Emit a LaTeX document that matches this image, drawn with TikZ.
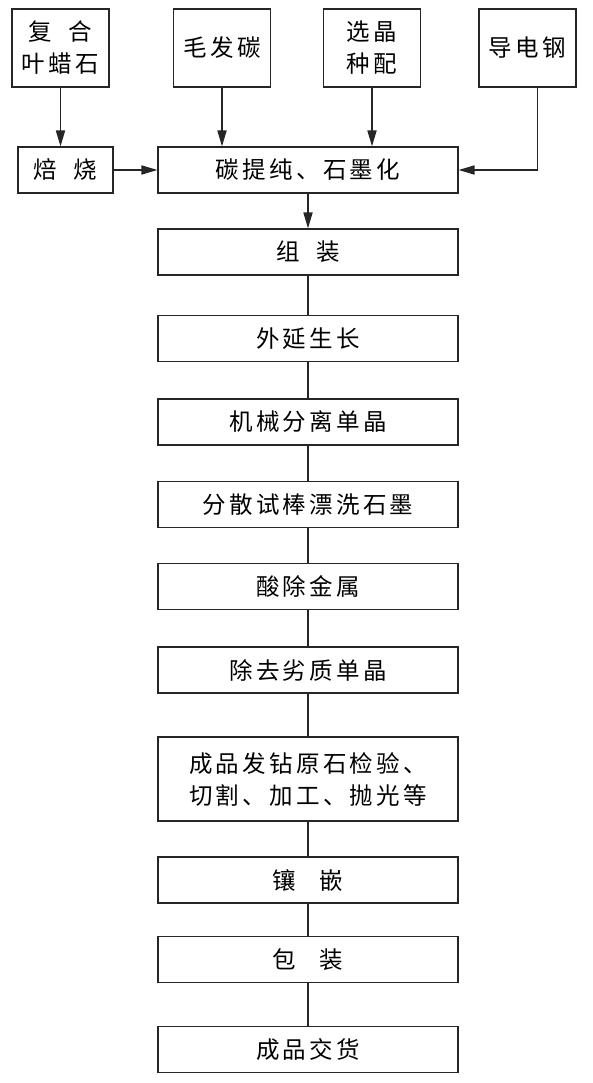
\documentclass[tikz,border=0pt]{standalone}
\usepackage{fontspec}
\newfontfamily\cjk[LetterSpace=14]{Noto Sans CJK SC}
\usetikzlibrary{arrows.meta}
\tikzset{
    box/.style={draw=black!85, line width=1.1pt, inner sep=0pt, align=center,
        font=\cjk\fontsize{23.5}{32}\selectfont},
    topbox/.style={box, minimum width=97pt, minimum height=78pt},
    widebox/.style={box, minimum width=300pt, minimum height=46pt},
    flow/.style={draw=black!85, line width=1.7pt, -{Triangle[length=16pt,width=9pt]}},
    link/.style={draw=black!85, line width=1.4pt}
}
\begin{document}
\begin{tikzpicture}[x=1pt, y=-1pt]
    \useasboundingbox[fill=white] (0,0) rectangle (592,1083);

    \node[topbox] (pyro) at (60.5, 48) {复\hspace{0.7em}合\\叶蜡石};
    \node[topbox] (hair) at (222, 48) {毛发碳};
    \node[topbox] (seed) at (372, 48) {选晶\\种配};
    \node[topbox] (steel) at (527.5, 48) {导电钢};

    \node[box, minimum width=95pt, minimum height=46pt] (roast) at (65.5, 170) {焙\hspace{0.7em}烧};
    \node[widebox] (purify) at (308, 170) {碳提纯、石墨化};

    \node[widebox] (assemble) at (308, 252) {组\hspace{0.7em}装};
    \node[widebox] (growth) at (308, 338.5) {外延生长};
    \node[widebox] (separate) at (308, 422) {机械分离单晶};
    \node[widebox] (wash) at (308, 504.5) {分散试棒漂洗石墨};
    \node[widebox] (acid) at (308, 586.5) {酸除金属};
    \node[widebox] (sort) at (308, 670) {除去劣质单晶};
    \node[widebox, minimum height=84pt] (cut) at (308, 779) {成品发钻原石检验、\\切割、加工、抛光等};
    \node[widebox] (inlay) at (308, 880) {镶\hspace{1em}嵌};
    \node[widebox] (pack) at (308, 959.5) {包\hspace{1em}装};
    \node[widebox] (deliver) at (308, 1049.5) {成品交货};

    \draw[flow] (pyro.south) -- (pyro.south |- roast.north);
    \draw[flow] (hair.south) -- (hair.south |- purify.north);
    \draw[flow] (seed.south) -- (seed.south |- purify.north);
    \draw[flow] ([xshift=10pt]steel.south) |- (purify.east);
    \draw[flow] (roast) -- (purify);
    \draw[flow] (purify) -- (assemble);

    \draw[link] (assemble) -- (growth) -- (separate) -- (wash) -- (acid) -- (sort)
        -- (cut) -- (inlay) -- (pack) -- (deliver);
\end{tikzpicture}
\end{document}
